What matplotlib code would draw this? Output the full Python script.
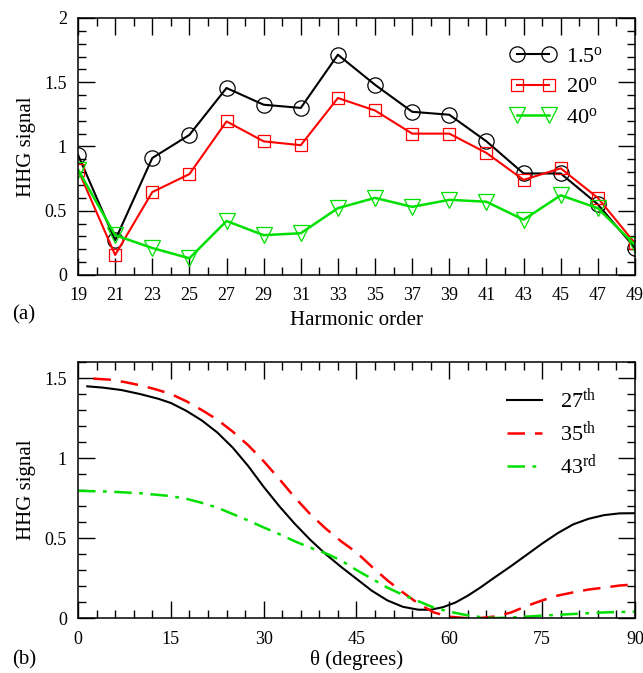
import matplotlib
matplotlib.use("Agg")
import matplotlib.pyplot as plt
from matplotlib.ticker import MultipleLocator

plt.rcParams['font.family'] = ['Liberation Serif', 'DejaVu Serif']
plt.rcParams['mathtext.fontset'] = 'custom'
plt.rcParams['mathtext.rm'] = 'Liberation Serif'
plt.rcParams['mathtext.it'] = 'Liberation Serif:italic'
plt.rcParams['font.size'] = 15

GREEN = '#00e000'

# (a) HHG signal vs harmonic order
orders = [19, 21, 23, 25, 27, 29, 31, 33, 35, 37, 39, 41, 43, 45, 47, 49]
sig_1_5 = [0.935, 0.27, 0.91, 1.09, 1.455, 1.325, 1.30, 1.714, 1.48, 1.27,
           1.247, 1.04, 0.79, 0.79, 0.55, 0.21]
sig_20 = [0.82, 0.156, 0.645, 0.785, 1.195, 1.04, 1.01, 1.377, 1.28, 1.10,
          1.10, 0.95, 0.74, 0.83, 0.60, 0.247]
sig_40 = [0.82, 0.31, 0.21, 0.13, 0.42, 0.31, 0.325, 0.52, 0.60, 0.53,
          0.585, 0.57, 0.43, 0.62, 0.52, 0.234]

# (b) HHG signal vs angle
theta_27 = [1.5, 4, 7, 10, 13, 15, 17.5, 20, 22.5, 25, 27.5, 30, 32.5, 35,
            37.5, 40, 42.5, 45, 47.5, 50, 52.5, 55, 57, 59, 61, 63, 65, 67,
            70, 72.5, 75, 77.5, 80, 82.5, 85, 87.5, 90]
h27 = [1.448, 1.44, 1.425, 1.40, 1.37, 1.344, 1.295, 1.235, 1.16, 1.065,
       0.95, 0.82, 0.70, 0.59, 0.49, 0.40, 0.32, 0.245, 0.17, 0.11, 0.07,
       0.052, 0.052, 0.068, 0.097, 0.14, 0.19, 0.245, 0.325, 0.395, 0.465,
       0.53, 0.585, 0.62, 0.643, 0.654, 0.655]
theta_35 = [2.5, 5, 7.5, 10, 12.5, 15, 17.5, 20, 22.5, 25, 27.5, 30, 32.5,
            35, 37.5, 40, 42.5, 45, 47.5, 50, 52.5, 55, 57.5, 60, 62.5, 65,
            67.5, 70, 72.5, 75, 77.5, 80, 82.5, 85, 87.5, 90]
h35 = [1.496, 1.49, 1.475, 1.455, 1.43, 1.40, 1.355, 1.30, 1.24, 1.165,
       1.08, 0.98, 0.87, 0.755, 0.65, 0.56, 0.48, 0.41, 0.32, 0.235, 0.16,
       0.09, 0.035, 0.008, 0.0, 0.0, 0.01, 0.035, 0.075, 0.11, 0.14, 0.16,
       0.178, 0.19, 0.203, 0.21]
theta_43 = [0, 5, 10, 15, 17.5, 20, 22.5, 25, 27.5, 30, 32.5, 35, 37.5, 40,
            42.5, 45, 47.5, 50, 52.5, 55, 57.5, 60, 62.5, 65, 67.5, 70, 75,
            80, 85, 90]
h43 = [0.795, 0.79, 0.78, 0.762, 0.745, 0.72, 0.69, 0.65, 0.61, 0.566,
       0.525, 0.48, 0.44, 0.405, 0.36, 0.30, 0.245, 0.19, 0.145, 0.105,
       0.065, 0.04, 0.02, 0.006, 0.0, 0.003, 0.015, 0.025, 0.035, 0.04]

fig = plt.figure(figsize=(6.43, 6.73), dpi=100)
ax1 = fig.add_axes([0.1213, 0.5914, 0.8662, 0.3819])
ax2 = fig.add_axes([0.1213, 0.0817, 0.8662, 0.3804])

ax1.plot(orders, sig_1_5, color='black', lw=1.5, marker='o', ms=11,
         mfc='none', mec='black', mew=0.9, label='1.5$^{\\mathrm{o}}$')
ax1.plot(orders, sig_20, color='red', lw=1.5, marker='s', ms=9,
         mfc='none', mec='red', mew=0.9, label='20$^{\\mathrm{o}}$')
ax1.plot(orders, sig_40, color=GREEN, lw=1.8, marker='v', ms=11,
         mfc='none', mec=GREEN, mew=0.9, label='40$^{\\mathrm{o}}$')
ax1.set_xlim(19, 49)
ax1.set_ylim(0, 2)
ax1.set_xticks(orders)
ax1.xaxis.set_minor_locator(MultipleLocator(1))
ax1.set_yticks([0, 0.5, 1, 1.5, 2])
ax1.set_yticklabels(['0', '0.5', '1', '1.5', '2'])
ax1.yaxis.set_minor_locator(MultipleLocator(0.1))
ax1.set_xlabel('Harmonic order', labelpad=5)
ax1.set_ylabel('HHG signal', labelpad=6)
ax1.legend(loc='upper left', bbox_to_anchor=(0.777, 0.89), frameon=False,
           borderpad=0, borderaxespad=0, handlelength=2.0, handletextpad=0.5,
           labelspacing=0.45, numpoints=2, fontsize=16)

ax2.plot(theta_27, h27, color='black', lw=1.5, label='27$^{\\mathrm{th}}$')
ax2.plot(theta_35, h35, color='red', lw=1.8, dashes=(7, 4),
         label='35$^{\\mathrm{th}}$')
ax2.plot(theta_43, h43, color=GREEN, lw=1.8, dashes=(7, 3, 1.5, 3),
         label='43$^{\\mathrm{rd}}$')
ax2.set_xlim(0, 90)
ax2.set_ylim(0, 1.6)
ax2.xaxis.set_major_locator(MultipleLocator(15))
ax2.xaxis.set_minor_locator(MultipleLocator(3))
ax2.set_yticks([0, 0.5, 1, 1.5])
ax2.set_yticklabels(['0', '0.5', '1', '1.5'])
ax2.yaxis.set_minor_locator(MultipleLocator(0.1))
ax2.set_xlabel('θ (degrees)', labelpad=2)
ax2.set_ylabel('HHG signal', labelpad=6)
ax2.legend(loc='upper left', bbox_to_anchor=(0.77, 0.90), frameon=False,
           borderpad=0, borderaxespad=0, handlelength=1.6, handletextpad=0.8,
           labelspacing=0.35, fontsize=16)

for ax in (ax1, ax2):
    ax.tick_params(which='both', direction='in', top=True, right=True,
                   labelsize=13, width=1.0)
    ax.tick_params(which='major', length=12)
    ax.tick_params(axis='x', which='major', pad=9)
    ax.tick_params(axis='y', which='major', pad=8)
    ax.tick_params(which='minor', length=6)
    for s in ax.spines.values():
        s.set_linewidth(1.1)

fig.text(12 / 643, 1 - 315 / 673, '(a)', fontsize=15, va='center')
fig.text(12 / 643, 1 - 660 / 673, '(b)', fontsize=15, va='center')

fig.savefig('out.png', dpi=100)
